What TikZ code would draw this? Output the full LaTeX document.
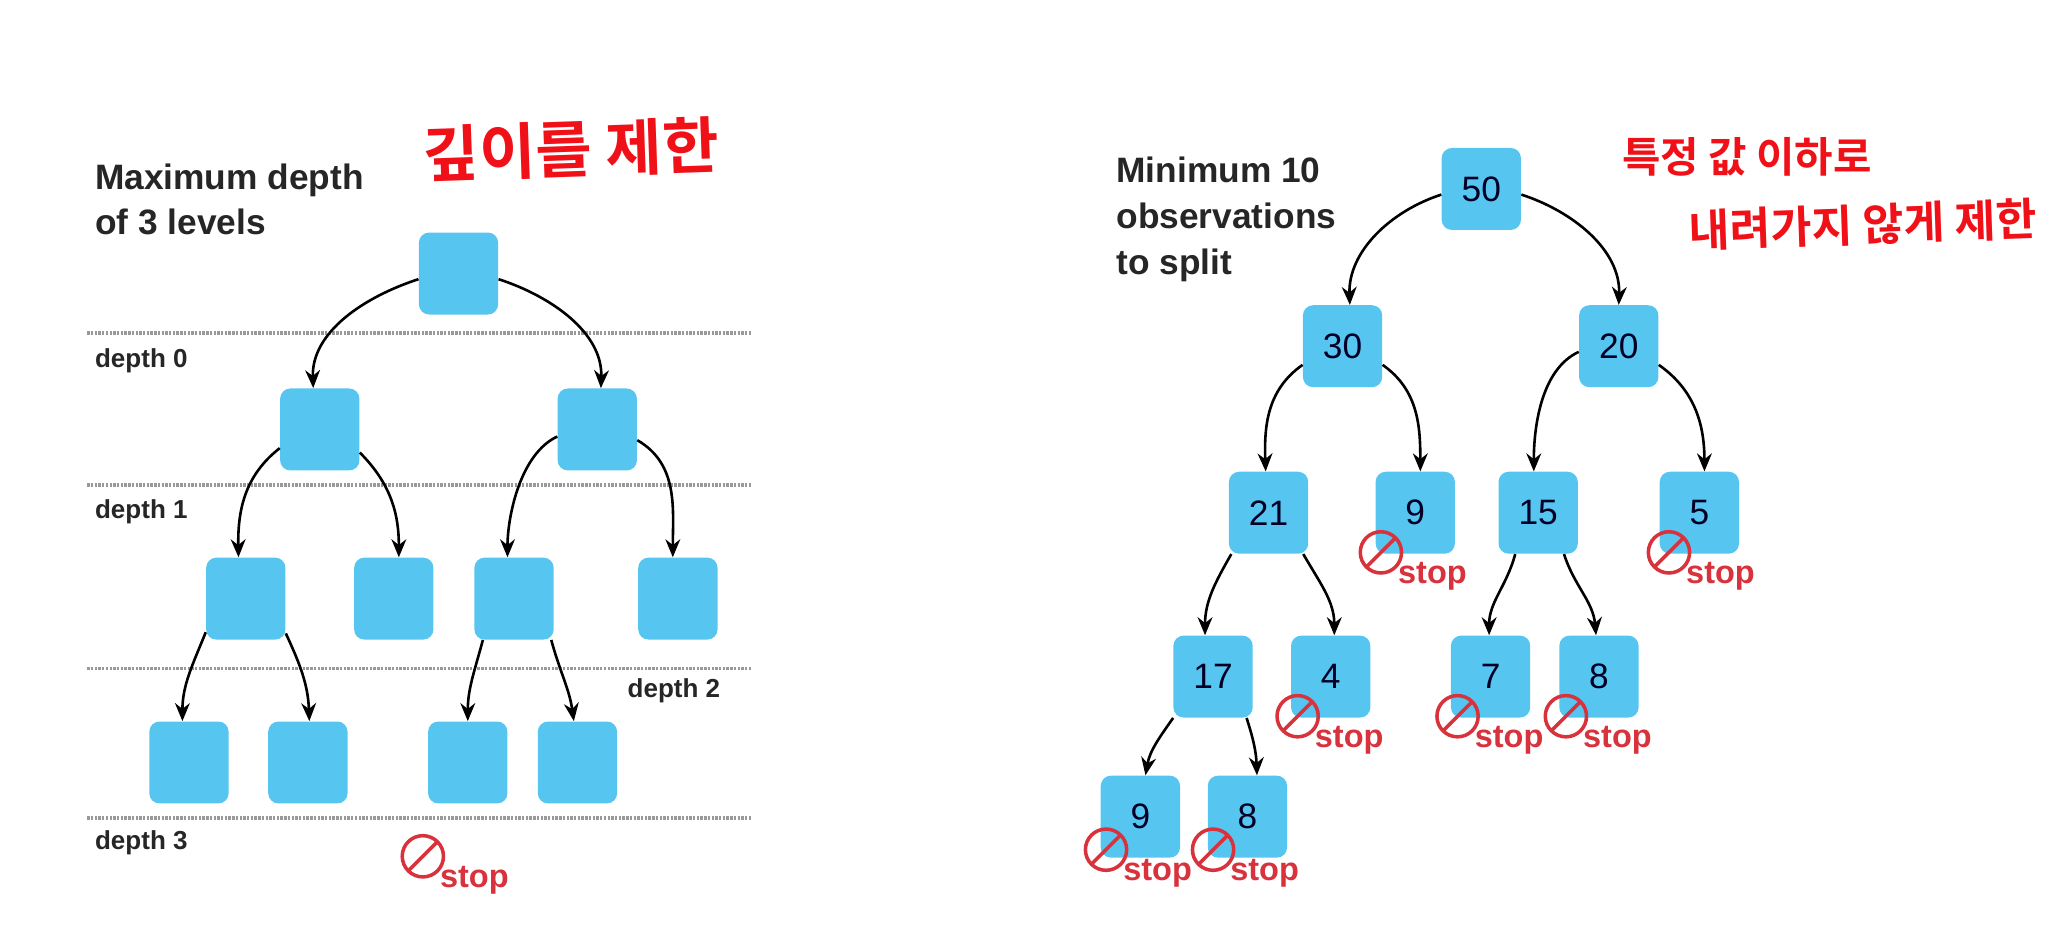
\documentclass[tikz,border=0pt]{standalone}
\usepackage{fontspec}
\setmainfont{Liberation Sans}
\newfontfamily\krfont{Noto Sans CJK KR}[BoldFont={* Bold}]
\usetikzlibrary{arrows.meta}
\definecolor{boxblue}{HTML}{56C5F0}
\definecolor{stopred}{HTML}{D8323C}
\definecolor{penred}{HTML}{F01018}
\tikzset{
box/.style={draw=none,fill=boxblue,rounded corners=5.5pt,minimum width=1.5cm,minimum height=1.55cm,inner sep=0pt,font=\fontsize{19}{22}\selectfont,text=black!85!blue},
branch/.style={-{Stealth[length=3.4mm,width=2.8mm,inset=1.1mm]},line width=1.4pt,black},
goleft/.style={branch,out=198,in=92,looseness=.95},
goright/.style={branch,out=-18,in=88,looseness=.95},
levelline/.style={draw=black!40,line width=1.7pt,dash pattern=on 1.3pt off 0.7pt},
title/.style={anchor=west,align=left,font=\bfseries\fontsize{19}{24.5}\selectfont,text=black!85},
levellabel/.style={anchor=west,font=\bfseries\fontsize{14}{16}\selectfont,text=black!85},
pen/.style={anchor=center,font=\krfont\bfseries,text=penred},
stopring/.style={circle,draw=stopred,line width=1.9pt,minimum size=.78cm,inner sep=0pt,
path picture={\draw[stopred,line width=1.9pt] (path picture bounding box.south west)--(path picture bounding box.north east);}},
stoptext/.style={font=\bfseries\fontsize{17.5}{20}\selectfont,text=stopred,inner sep=0pt}
}
\newcommand{\stopat}[3]{
\node[stopring] (#1r) at (#2,#3) {};
\node[stoptext] (#1t) at (#2+39,#3+18) {stop};
}
\begin{document}
\begin{tikzpicture}[x=0.025cm,y=-0.025cm]
\useasboundingbox (0,0) rectangle (1568,712);
% left tree
\node[title] (maxdepth) at (67,151) {Maximum depth\\of 3 levels};
\node[pen,font=\krfont\bfseries\fontsize{33}{36}\selectfont,rotate=2] (depthnote) at (432,113) {깊이를 제한};
\foreach \y in {252,367,506,619}
  \draw[levelline] (66,\y) -- (568,\y);
\node[levellabel] (d0) at (67,273) {depth 0};
\node[levellabel] (d1) at (67,387) {depth 1};
\node[levellabel] (d2) at (470,523) {depth 2};
\node[levellabel] (d3) at (67,638) {depth 3};
\node[box] (root) at (347,207) {};
\node[box] (a) at (242,325) {};
\node[box] (b) at (452,325) {};
\node[box] (aa) at (186,453) {};
\node[box] (ab) at (298,453) {};
\node[box] (ba) at (389,453) {};
\node[box] (bb) at (513,453) {};
\node[box] (aaa) at (143,577) {};
\node[box] (aab) at (233,577) {};
\node[box] (baa) at (354,577) {};
\node[box] (bab) at (437,577) {};
\draw[goleft] (root.188) to (a.99);
\draw[goright] (root.-8) to (b.85);
\draw[branch,out=218,in=91] (a.205) to (aa.100);
\draw[branch,out=-45,in=90] (a.-30) to (ab.83);
\draw[branch,out=205,in=90,looseness=.8] (b.190) to (ba.99);
\draw[branch,out=-30,in=90] (b.-15) to (bb.97);
\draw[branch,out=248,in=90] (aa.220) to (aaa.99);
\draw[branch,out=-65,in=92] (aa.-41) to (aab.88);
\draw[branch,out=255,in=90] (ba.-127) to (baa.90);
\draw[branch,out=-75,in=98] (ba.-48) to (bab.95);
\stopat{left}{320}{648}
% right tree
\node[title] (minobs) at (840,166) {Minimum 10\\observations\\to split};
\node[pen,font=\krfont\bfseries\fontsize{22.5}{26}\selectfont] (valnote) at (1322,119) {특정 값 이하로};
\node[pen,font=\krfont\bfseries\fontsize{24}{26}\selectfont,rotate=2] (limitnote) at (1410,170) {내려가지 않게 제한};
\node[box] (n50) at (1121,143) {50};
\node[box] (n30) at (1016,262) {30};
\node[box] (n20) at (1225,262) {20};
\node[box] (n21) at (960,388) {21};
\node[box] (n9) at (1071,388) {9};
\node[box] (n15) at (1164,388) {15};
\node[box] (n5) at (1286,388) {5};
\node[box] (n17) at (918,512) {17};
\node[box] (n4) at (1007,512) {4};
\node[box] (n7) at (1128,512) {7};
\node[box] (n8) at (1210,512) {8};
\node[box] (m9) at (863,618) {9};
\node[box] (m8) at (944,618) {8};
\draw[goleft] (n50.188) to (n30.80);
\draw[goright] (n50.-8) to (n20.90);
\draw[branch,out=215,in=92] (n30.205) to (n21.94);
\draw[branch,out=-35,in=90] (n30.-25) to (n9.83);
\draw[branch,out=205,in=90,looseness=.85] (n20.188) to (n15.96);
\draw[branch,out=-35,in=90] (n20.-25) to (n5.83);
\draw[branch,out=240,in=90] (n21.-132) to (n17.101);
\draw[branch,out=-60,in=90] (n21.-50) to (n4.85);
\draw[branch,out=255,in=90] (n15.-119) to (n7.92);
\draw[branch,out=-72,in=95] (n15.-58) to (n8.94);
\draw[branch,out=235,in=80] (n17.-134) to (m9.83);
\draw[branch,out=-72,in=92] (n17.-51) to (m8.77);
\stopat{s9}{1045}{418}
\stopat{s5}{1263}{418}
\stopat{s4}{982}{542}
\stopat{s7}{1103}{542}
\stopat{s8}{1185}{542}
\stopat{t9}{837}{643}
\stopat{t8}{918}{643}
\end{tikzpicture}
\end{document}
